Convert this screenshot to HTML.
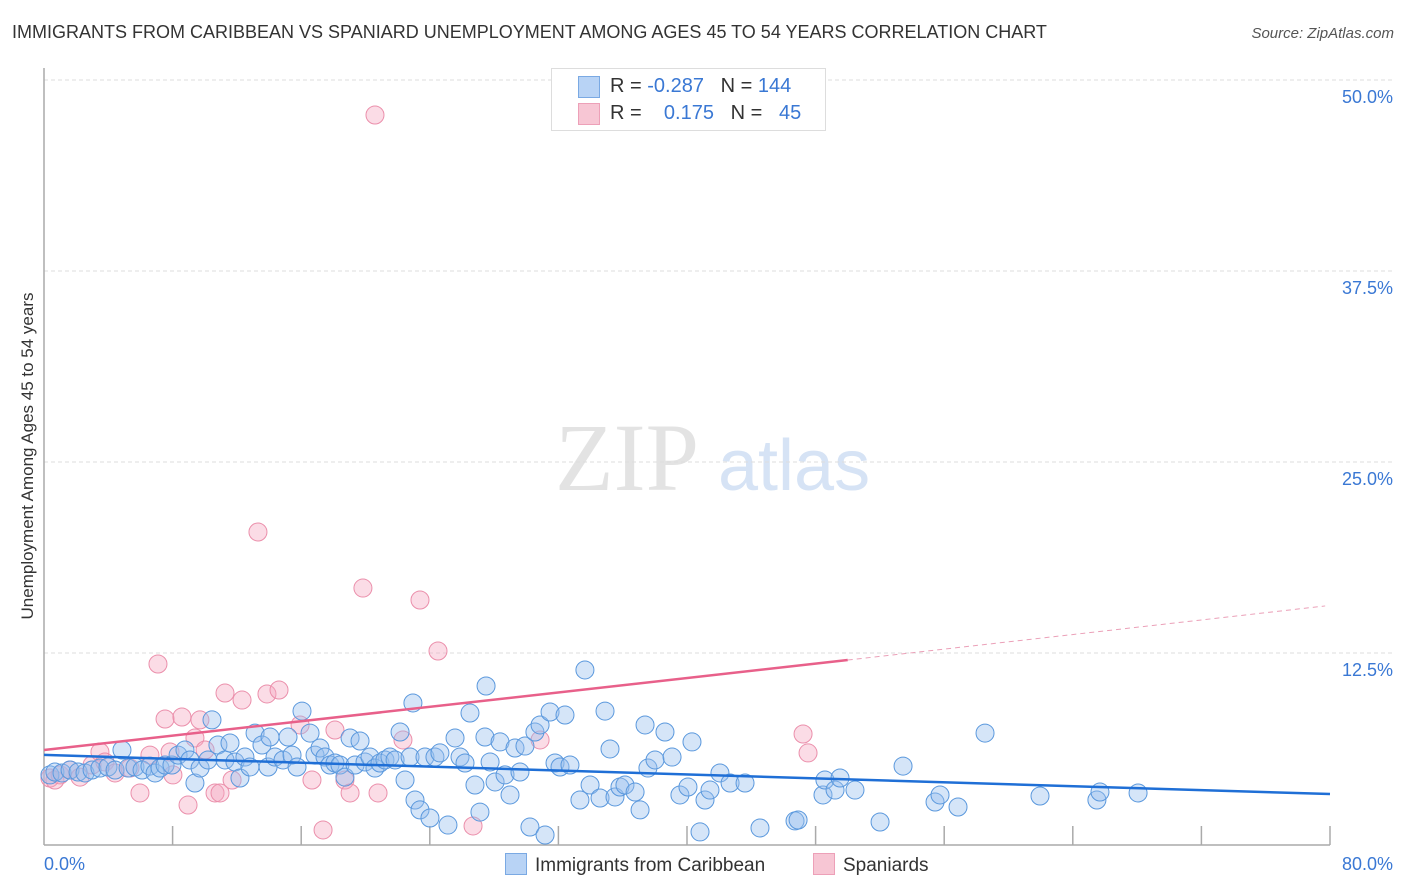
<!DOCTYPE html>
<html><head><meta charset="utf-8">
<style>
body{margin:0;background:#fff;font-family:"Liberation Sans",sans-serif;}
#wrap{position:relative;width:1406px;height:892px;overflow:hidden;}
.t{position:absolute;white-space:nowrap;}
</style></head>
<body>
<div id="wrap">
<div class="t" style="left:12px;top:22px;font-size:18px;color:#333;">IMMIGRANTS FROM CARIBBEAN VS SPANIARD UNEMPLOYMENT AMONG AGES 45 TO 54 YEARS CORRELATION CHART</div>
<div class="t" style="right:12px;top:25px;font-size:15px;color:#555;font-style:italic;">Source: ZipAtlas.com</div>
<div class="t" style="left:28px;top:456px;font-size:17px;color:#333;transform:translate(-50%,-50%) rotate(-90deg);">Unemployment Among Ages 45 to 54 years</div>
<svg id="plot" width="1406" height="892" style="position:absolute;left:0;top:0"></svg>
<div style="position:absolute;left:551px;top:68px;width:273px;height:61px;border:1px solid #ddd;background:#fff;font-size:20px;">
 <div style="position:absolute;left:26px;top:7px;width:20px;height:20px;background:#b8d3f5;border:1px solid #7aa9e3;"></div>
 <div class="t" style="left:58px;top:6px;color:#333;">R = <span style="color:#3a78d4">-0.287</span>&nbsp;&nbsp;&nbsp;N = <span style="color:#3a78d4">144</span></div>
 <div style="position:absolute;left:26px;top:34px;width:20px;height:20px;background:#f7c6d4;border:1px solid #eda0b8;"></div>
 <div class="t" style="left:58px;top:33px;color:#333;">R = &nbsp;&nbsp;&nbsp;<span style="color:#3a78d4">0.175</span>&nbsp;&nbsp;&nbsp;N = &nbsp;&nbsp;<span style="color:#3a78d4">45</span></div>
</div>
<div style="position:absolute;left:505px;top:853px;font-size:19px;color:#333;">
 <span style="display:inline-block;width:20px;height:20px;background:#b8d3f5;border:1px solid #7aa9e3;vertical-align:-4px;margin-right:8px;"></span>Immigrants from Caribbean</div>
<div style="position:absolute;left:813px;top:853px;font-size:19px;color:#333;">
 <span style="display:inline-block;width:20px;height:20px;background:#f7c6d4;border:1px solid #eda0b8;vertical-align:-4px;margin-right:8px;"></span>Spaniards</div>
</div>
<script>
const blueX=[0.37,0.68,1.12,1.62,2.12,2.55,2.99,3.48,3.98,4.42,4.85,5.23,5.66,6.10,6.59,6.91,7.22,7.53,7.96,8.34,8.77,9.08,9.39,9.71,10.20,10.45,10.82,11.26,11.57,11.88,12.19,12.50,12.81,13.13,13.56,13.94,14.06,14.37,14.87,15.18,15.43,15.74,16.05,16.55,16.86,17.17,17.48,17.79,18.10,18.41,18.72,19.04,19.35,19.66,19.97,20.28,20.59,20.90,21.21,21.52,21.84,22.15,22.46,22.77,22.95,23.08,23.39,23.70,24.01,24.32,24.63,25.13,25.57,25.88,26.19,26.50,26.81,27.12,27.43,27.75,28.06,28.37,28.68,28.99,29.30,29.61,29.92,30.23,30.54,30.86,31.17,31.48,31.79,32.10,32.41,32.72,33.34,33.65,33.97,34.59,34.90,35.21,35.52,35.83,36.14,36.77,37.08,37.39,37.57,38.01,38.63,39.07,39.56,40.06,40.31,40.81,41.12,41.43,42.05,42.68,43.61,44.54,46.72,46.91,48.46,48.58,49.21,49.52,50.45,52.01,53.44,55.43,55.74,56.86,58.54,61.96,65.50,65.69,68.06,27.50];
const blueY=[4.52,4.71,4.65,4.84,4.71,4.65,4.84,4.97,5.04,4.84,6.15,4.97,5.04,4.84,5.10,4.65,4.97,5.17,5.17,5.82,6.15,5.50,3.99,4.97,5.50,8.12,6.48,5.50,6.61,5.37,4.32,5.69,5.04,7.26,6.48,5.04,7.00,5.69,5.50,7.00,5.82,5.04,8.70,7.26,5.82,6.28,5.69,5.17,5.30,5.17,4.38,6.94,5.17,6.74,5.37,5.69,4.97,5.30,5.50,5.69,5.50,7.33,4.19,5.69,9.23,2.88,2.23,5.69,1.70,5.69,5.96,1.24,6.94,5.69,5.30,8.57,3.86,2.09,7.00,5.37,4.06,6.68,4.52,3.21,6.28,4.71,6.41,1.11,7.33,7.79,0.59,8.64,5.30,5.04,8.44,5.17,2.88,11.39,3.86,3.01,8.70,6.22,3.08,3.73,3.86,3.40,2.23,7.79,4.97,5.50,7.33,5.69,3.21,3.73,6.68,0.79,2.88,3.53,4.65,3.99,3.99,1.05,1.51,1.57,3.21,4.19,3.53,4.32,3.53,1.44,5.10,2.75,3.21,2.42,7.26,3.14,2.88,3.40,3.34,10.34];
const pinkX=[0.37,0.68,1.00,1.62,2.24,2.99,3.48,3.79,4.42,5.35,5.97,6.59,7.09,7.53,7.84,8.02,8.58,8.96,9.39,9.70,10.02,10.64,10.95,11.26,11.70,12.32,13.87,14.62,13.31,15.93,16.67,17.36,18.10,18.72,19.04,19.84,20.59,20.78,22.33,23.39,24.51,26.69,30.86,47.22,47.53];
const pinkY=[4.32,4.19,4.52,4.84,4.38,5.17,6.02,5.37,4.65,4.97,3.34,5.82,11.78,8.18,6.02,4.52,8.31,2.55,6.94,8.12,6.15,3.34,3.34,9.88,4.19,9.42,9.82,10.08,20.42,7.79,4.19,0.92,7.46,4.19,3.34,16.75,47.71,3.34,6.81,15.97,12.63,1.18,6.81,7.20,5.96];
const blueTrend=[[0,5.83],[80,3.27]];
const pinkTrend=[[0,6.15],[50,12.04]];
const pinkTrendDash=[[50,12.04],[79.7,15.58]];
const yTicks=[12.5,25,37.5,50];
const yTickLabels=["12.5%","25.0%","37.5%","50.0%"];
const xTickLabels=["0.0%","80.0%"];

const X0=44,X1=1330,Y0=844,Y50=80;
const sx=v=>X0+(v/80)*(X1-X0);
const sy=v=>Y0-(v/50)*(Y0-Y50);
const svg=document.getElementById('plot');
const NS='http://www.w3.org/2000/svg';
function mk(tag,attrs){const e=document.createElementNS(NS,tag);for(const k in attrs)e.setAttribute(k,attrs[k]);svg.appendChild(e);return e;}

// watermark
let wm=mk('text',{x:555,y:490,'font-size':96,'font-family':'Liberation Serif,serif',fill:'#e3e3e3'});wm.textContent='ZIP';


let wm2=mk('text',{x:718,y:490,'font-size':72,'font-family':'Liberation Sans,sans-serif',fill:'#d6e3f5'});wm2.textContent='atlas';



yTicks.forEach((v,i)=>{
 const g=mk('line',{x1:X0,x2:1392,y1:sy(v),y2:sy(v),stroke:'#ddd','stroke-dasharray':'4,3'});
 
 
 const t=mk('text',{x:1393,y:sy(v)+23,'text-anchor':'end','font-size':18,fill:'#3a78d4','font-family':'Liberation Sans,sans-serif'});
 t.textContent=yTickLabels[i];
 
 
});
let ax=mk('line',{x1:X0,x2:X0,y1:68,y2:Y0+1,stroke:'#aaa','stroke-width':1.5});


let bx=mk('line',{x1:X0,x2:X1,y1:Y0+1,y2:Y0+1,stroke:'#aaa','stroke-width':1.5});


for(let i=1;i<=10;i++){
 const v=i*8;
 const tk=mk('line',{x1:sx(v),x2:sx(v),y1:826,y2:Y0+1,stroke:'#aaa','stroke-width':1.5});
 
 
}
[[0,'start',xTickLabels[0]],[80,'end',xTickLabels[1]]].forEach(([v,a,l])=>{
 const t=mk('text',{x:a==='start'?sx(v):1393,y:870,'text-anchor':a,'font-size':18,fill:'#3a78d4','font-family':'Liberation Sans,sans-serif'});
 t.textContent=l;
 
 
});

pinkX.forEach((x,i)=>{
 const c=mk('circle',{cx:sx(x),cy:sy(pinkY[i]),r:9,fill:'rgba(244,168,192,0.4)',stroke:'#eb8fab','stroke-width':1});
 
 
});
blueX.forEach((x,i)=>{
 const c=mk('circle',{cx:sx(x),cy:sy(blueY[i]),r:9,fill:'rgba(150,190,238,0.4)',stroke:'#5a98dd','stroke-width':1});
 
 
});
let bl=mk('line',{x1:sx(blueTrend[0][0]),y1:sy(blueTrend[0][1]),x2:sx(blueTrend[1][0]),y2:sy(blueTrend[1][1]),stroke:'#1f6fd6','stroke-width':2.5});


let pl=mk('line',{x1:sx(pinkTrend[0][0]),y1:sy(pinkTrend[0][1]),x2:sx(pinkTrend[1][0]),y2:sy(pinkTrend[1][1]),stroke:'#e8608a','stroke-width':2.5});


let pd=mk('line',{x1:sx(pinkTrendDash[0][0]),y1:sy(pinkTrendDash[0][1]),x2:sx(pinkTrendDash[1][0]),y2:sy(pinkTrendDash[1][1]),stroke:'#eba0b8','stroke-width':1,'stroke-dasharray':'5,4'});


</script>
</body></html>
